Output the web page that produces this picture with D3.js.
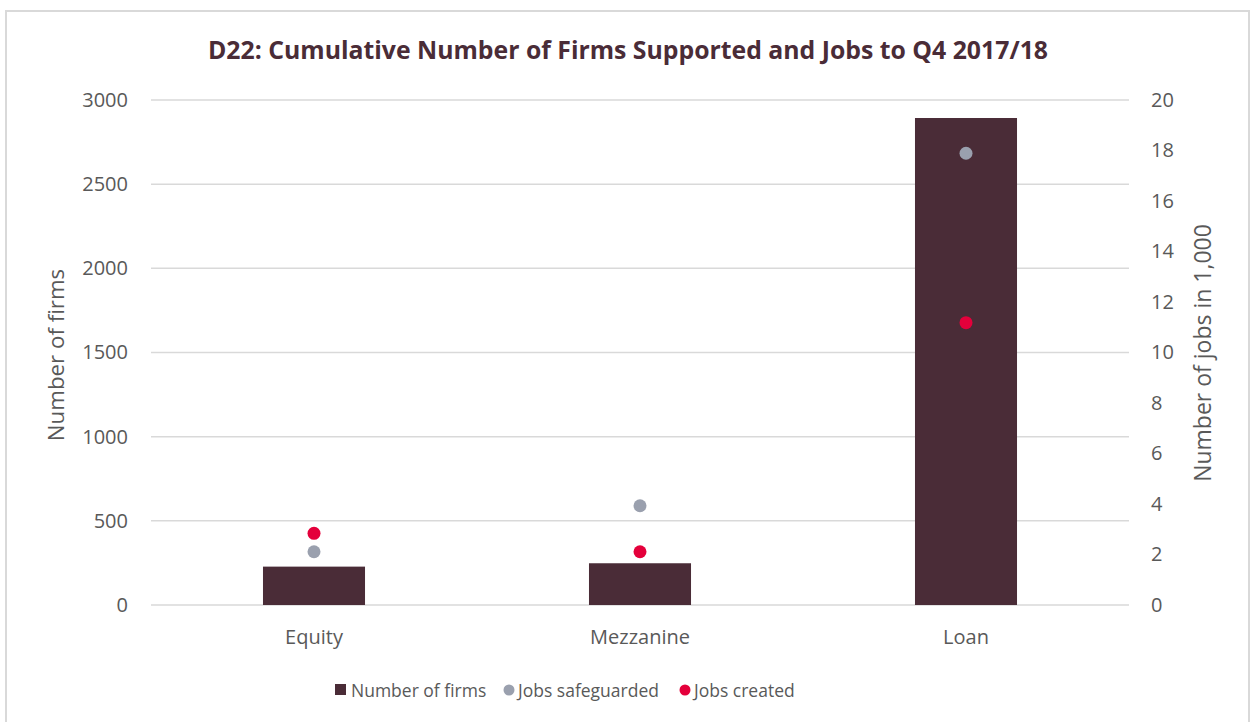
<!DOCTYPE html>
<html>
<head>
    <meta charset="utf-8">
    <title>D22 Firms and Jobs</title>
    <script src="https://d3js.org/d3.v7.min.js"></script>
    <style>
        body { margin: 0; background: #fff; }
        svg text { font-family: "Open Sans", sans-serif; fill: #595959; }
    </style>
</head>
<body>
<svg id="chart" width="1252" height="722"></svg>
<script>
    // chart data
    const categories = ["Equity", "Mezzanine", "Loan"];
    const firms = [228, 248, 2893];
    const jobsSafeguarded = [2.11, 3.93, 17.89];
    const jobsCreated = [2.84, 2.11, 11.18];
    const firmTicks = [0, 500, 1000, 1500, 2000, 2500, 3000];
    const jobTicks = [0, 2, 4, 6, 8, 10, 12, 14, 16, 18, 20];

    const barColor = "#4a2c37";
    const greyColor = "#9aa0ae";
    const redColor = "#e4003b";

    const svg = d3.select("#chart");

    // outer frame
    svg.append("rect")
        .attr("x", 6).attr("y", 11)
        .attr("width", 1243).attr("height", 720)
        .attr("fill", "none")
        .attr("stroke", "#d9d9d9")
        .attr("stroke-width", 2);

    const plotLeft = 151, plotRight = 1129, plotTop = 100, plotBottom = 605;

    const x = d3.scaleBand()
        .domain(categories)
        .range([plotLeft, plotRight])
        .paddingInner(0.687)
        .paddingOuter(0.3435);

    const yFirms = d3.scaleLinear().domain([0, 3000]).range([plotBottom, plotTop]);
    const yJobs = d3.scaleLinear().domain([0, 20]).range([plotBottom, plotTop]);

    // gridlines
    svg.append("g")
        .selectAll("line")
        .data(firmTicks)
        .enter().append("line")
        .attr("x1", plotLeft).attr("x2", plotRight)
        .attr("y1", d => yFirms(d)).attr("y2", d => yFirms(d))
        .attr("stroke", "#d9d9d9")
        .attr("stroke-width", 1.5);

    // left axis
    const leftAxis = svg.append("g")
        .attr("transform", `translate(${plotLeft - 23},0)`)
        .call(d3.axisLeft(yFirms).tickValues(firmTicks).tickFormat(d3.format("d")).tickSize(0).tickPadding(0));
    leftAxis.select(".domain").remove();
    leftAxis.selectAll("text")
        .style("font-size", "20px")
        .attr("fill", "#595959");

    // right axis
    const rightAxis = svg.append("g")
        .attr("transform", `translate(${plotRight + 22},0)`)
        .call(d3.axisRight(yJobs).tickValues(jobTicks).tickFormat(d3.format("d")).tickSize(0).tickPadding(0));
    rightAxis.select(".domain").remove();
    rightAxis.selectAll("text")
        .style("font-size", "20px")
        .attr("fill", "#595959");

    // bars
    svg.append("g")
        .selectAll("rect")
        .data(firms)
        .enter().append("rect")
        .attr("x", (d, i) => x(categories[i]))
        .attr("y", d => yFirms(d))
        .attr("width", x.bandwidth())
        .attr("height", d => yFirms(0) - yFirms(d))
        .attr("fill", barColor);

    // dots
    function drawDots(values, color) {
        svg.append("g")
            .selectAll("circle")
            .data(values)
            .enter().append("circle")
            .attr("cx", (d, i) => x(categories[i]) + x.bandwidth() / 2)
            .attr("cy", d => yJobs(d))
            .attr("r", 6.5)
            .attr("fill", color);
    }
    drawDots(jobsSafeguarded, greyColor);
    drawDots(jobsCreated, redColor);

    // category labels
    svg.append("g")
        .selectAll("text")
        .data(categories)
        .enter().append("text")
        .attr("x", d => x(d) + x.bandwidth() / 2)
        .attr("y", 644)
        .attr("text-anchor", "middle")
        .style("font-size", "20px")
        .text(d => d);

    // title
    svg.append("text")
        .attr("x", 628)
        .attr("y", 59)
        .attr("text-anchor", "middle")
        .style("font-size", "24.8px")
        .style("font-weight", "bold")
        .style("fill", "#4a2c37")
        .text("D22: Cumulative Number of Firms Supported and Jobs to Q4 2017/18");

    // axis titles
    svg.append("text")
        .attr("transform", "translate(64,355) rotate(-90)")
        .attr("text-anchor", "middle")
        .style("font-size", "22.3px")
        .text("Number of firms");

    svg.append("text")
        .attr("transform", "translate(1211,353) rotate(-90)")
        .attr("text-anchor", "middle")
        .style("font-size", "23px")
        .text("Number of jobs in 1,000");

    // legend
    const legendItems = [
        { label: "Number of firms", color: barColor, shape: "rect", x: 335 },
        { label: "Jobs safeguarded", color: greyColor, shape: "circle", x: 504 },
        { label: "Jobs created", color: redColor, shape: "circle", x: 680 }
    ];
    const legendY = 690;
    legendItems.forEach(item => {
        const g = svg.append("g").attr("transform", `translate(${item.x},${legendY})`);
        if (item.shape === "rect") {
            g.append("rect").attr("x", 0).attr("y", -6).attr("width", 11).attr("height", 11).attr("fill", item.color);
        } else {
            g.append("circle").attr("cx", 5).attr("cy", 0).attr("r", 5.5).attr("fill", item.color);
        }
        g.append("text")
            .attr("x", item.shape === "rect" ? 16 : 14)
            .attr("y", 7)
            .style("font-size", "17.5px")
            .text(item.label);
    });
</script>
</body>
</html>
